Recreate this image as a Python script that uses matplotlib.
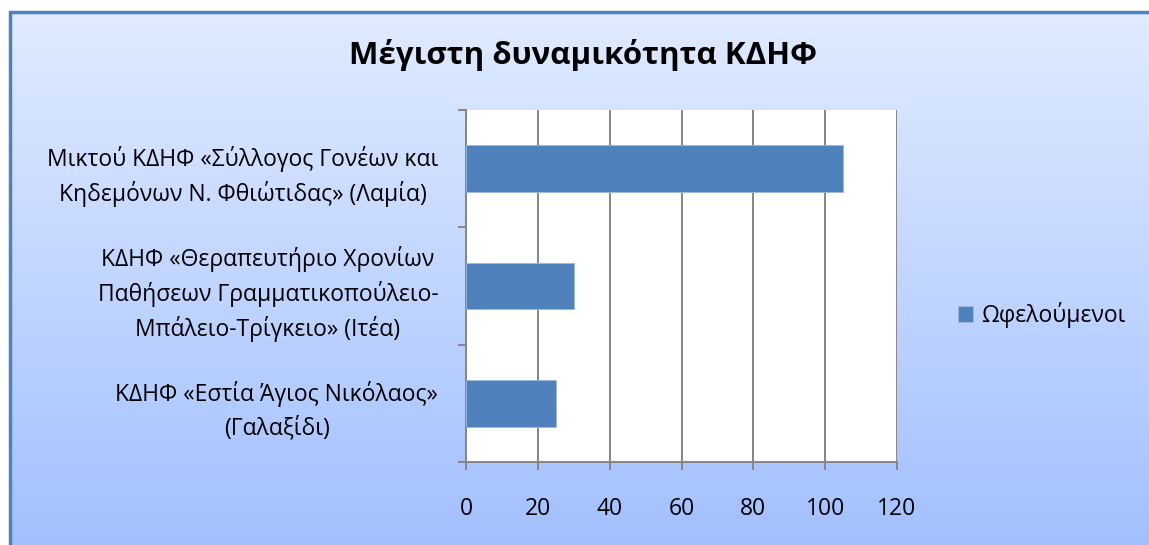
import numpy as np
import matplotlib.pyplot as plt

plt.rcParams['font.family'] = ['Open Sans', 'DejaVu Sans']

# data
categories = [
    "Μικτού ΚΔΗΦ «Σύλλογος Γονέων και\nΚηδεμόνων Ν. Φθιώτιδας» (Λαμία)",
    "ΚΔΗΦ «Θεραπευτήριο Χρονίων\nΠαθήσεων Γραμματικοπούλειο-\nΜπάλειο-Τρίγκειο» (Ιτέα)",
    "ΚΔΗΦ «Εστία Άγιος Νικόλαος»\n(Γαλαξίδι)",
]
beneficiaries = [105, 30, 25]
series_name = "Ωφελούμενοι"
title = "Μέγιστη δυναμικότητα ΚΔΗΦ"
xticks = [0, 20, 40, 60, 80, 100, 120]

W, H = 1149, 545
fig = plt.figure(figsize=(W / 100, H / 100), dpi=100)
fig.patch.set_facecolor('white')

# gradient background of the chart area, border only on left and top
bg = fig.add_axes([0, 0, 1, 1], zorder=0)
top = np.array([224, 235, 255]) / 255
bot = np.array([162, 192, 255]) / 255
t = np.linspace(0, 1, 256)[:, None, None]
grad = np.repeat(top * (1 - t) + bot * t, 2, axis=1)
bg.imshow(grad, extent=[10, W + 5, H + 5, 12], aspect='auto')
bg.plot([10, 10, W + 5], [H + 5, 12, 12], color='#4F81BD', lw=2.5, solid_joinstyle='miter')
bg.set_xlim(0, W)
bg.set_ylim(H, 0)
bg.axis('off')

# plot area
ax = fig.add_axes([466 / W, 1 - 462 / H, 431 / W, 352 / H], zorder=1)
ax.set_facecolor('white')
y = np.arange(len(categories))
ax.barh(y, beneficiaries, height=0.4, color='#4F81BD', edgecolor='#9DB9DD', lw=0.6,
        label=series_name, zorder=3)
ax.set_xlim(0, 120)
ax.set_ylim(-0.5, len(categories) - 0.5)
ax.invert_yaxis()

gray = '#868686'
ax.set_xticks(xticks)
ax.set_xticklabels([str(v) for v in xticks], fontsize=16.5)
ax.xaxis.grid(True, color=gray, lw=1.4, zorder=1)
ax.set_axisbelow(True)

ax.set_yticks(np.arange(-0.5, len(categories), 1.0))
ax.set_yticklabels([])
ax.set_yticks(y, minor=True)
ax.set_yticklabels(categories, minor=True, fontsize=16.5, multialignment='center', linespacing=1.45)
ax.tick_params(axis='y', which='minor', length=0, pad=20)
ax.tick_params(axis='y', which='major', length=6, width=1.4, color=gray)
ax.tick_params(axis='x', length=6, width=1.4, color=gray, pad=19)

for s in ['top', 'right']:
    ax.spines[s].set_visible(False)
for s in ['left', 'bottom']:
    ax.spines[s].set_color(gray)
    ax.spines[s].set_linewidth(1.4)

fig.text(583 / W, 1 - 55 / H, title, ha='center', va='center', fontsize=22.5, fontweight='bold')

ax.legend(loc='center left', bbox_to_anchor=(958 / W, 1 - 315 / H), bbox_transform=fig.transFigure,
          frameon=False, fontsize=16.5, handlelength=0.65, handleheight=0.65, handletextpad=0.35,
          borderpad=0, borderaxespad=0)

fig.savefig('out.png', dpi=100)
